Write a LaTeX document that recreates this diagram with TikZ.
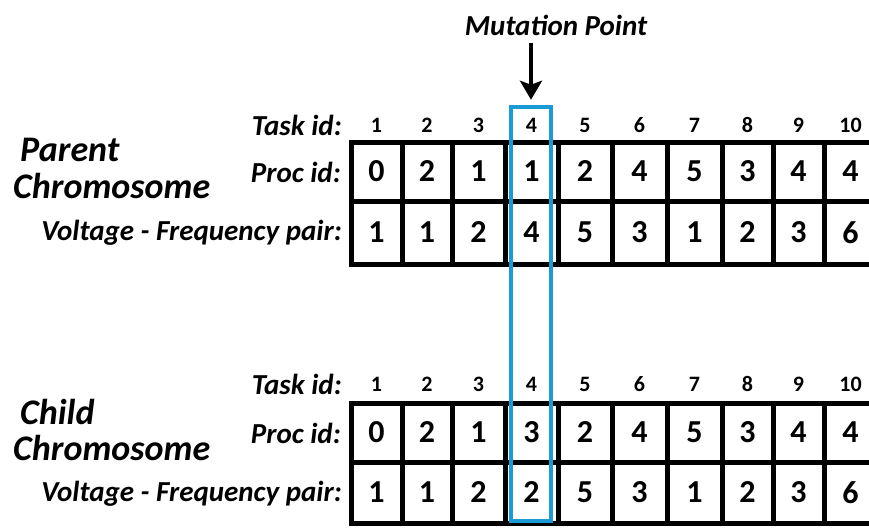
\documentclass[tikz,border=0pt]{standalone}
\usepackage{fontspec}
\setmainfont{Carlito}
\usepackage{tikz}
\usetikzlibrary{arrows.meta}
\definecolor{mutblue}{RGB}{27,154,214}

\begin{document}
\begin{tikzpicture}[x=1pt, y=-1pt,
  cell/.style={draw, line width=5pt, inner sep=0pt, font=\fontsize{32}{32}\selectfont\bfseries},
  taskno/.style={font=\fontsize{22}{22}\selectfont\bfseries},
  rowlabel/.style={anchor=east, inner sep=0pt, font=\fontsize{29}{29}\selectfont\bfseries\itshape},
  chromlabel/.style={anchor=west, inner sep=0pt, font=\fontsize{36}{36}\selectfont\bfseries\itshape},
  mutbox/.style={draw=mutblue, line width=4.5pt, inner sep=0pt}]
\clip (0,0) rectangle (869,527);
% row labels
\node[chromlabel] (pname) at (20,150) {Parent};
\node[chromlabel] (pchrom) at (13,186) {Chromosome};
\node[rowlabel] (ptask) at (342,125) {Task id:};
\node[rowlabel] (pproc) at (341,172) {Proc id:};
\node[rowlabel] (pvf) at (342,233) {Voltage - Frequency pair:};
\node[chromlabel] (cname) at (20,412) {Child};
\node[chromlabel] (cchrom) at (13,448) {Chromosome};
\node[rowlabel] (ctask) at (342,384) {Task id:};
\node[rowlabel] (cproc) at (341,433) {Proc id:};
\node[rowlabel] (cvf) at (342,494) {Voltage - Frequency pair:};
% the two chromosomes, one column per task
\foreach \c/\xl/\xr/\pp/\pv/\cp/\cv in {1/351/402/0/1/0/1, 2/402/452/2/1/2/1,
    3/452/505/1/2/1/2, 4/505/558/1/4/3/2, 5/558/612/2/5/2/5, 6/612/667/4/3/4/3,
    7/667/722/5/1/5/1, 8/722/773/3/2/3/2, 9/773/824/4/3/4/3, 10/824/877/4/6/4/6}{
  \pgfmathsetmacro\xc{(\xl+\xr)/2}
  \pgfmathsetmacro\w{\xr-\xl}
  \node[taskno] (pt\c) at (\xc,125) {\c};
  \node[cell, minimum width=\w pt, minimum height=59pt] (pp\c) at (\xc,171.5) {\pp};
  \node[cell, minimum width=\w pt, minimum height=63pt] (pv\c) at (\xc,232.5) {\pv};
  \node[taskno] (ct\c) at (\xc,384) {\c};
  \node[cell, minimum width=\w pt, minimum height=59pt] (cp\c) at (\xc,432.5) {\cp};
  \node[cell, minimum width=\w pt, minimum height=61pt] (cv\c) at (\xc,492.5) {\cv};
}
% mutated gene
\node[mutbox, minimum width=40pt, minimum height=414pt] (mut) at (531,314) {};
\node[font=\fontsize{29}{29}\selectfont\bfseries\itshape] (mpt) at (556,25) {Mutation Point};
\draw[line width=3.5pt, -{Stealth[length=19pt, width=22pt, inset=4pt]}]
  (mut.north |- mpt.south) ++(0,4) -- ([yshift=5pt]mut.north);
\end{tikzpicture}
\end{document}
